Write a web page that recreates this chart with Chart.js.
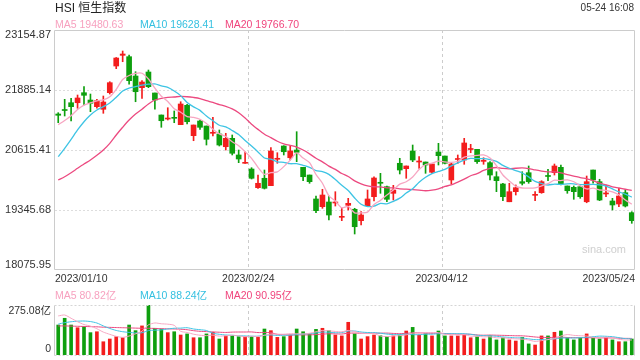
<!DOCTYPE html>
<html><head><meta charset="utf-8">
<script src="https://cdn.jsdelivr.net/npm/chart.js@4.4.1/dist/chart.umd.min.js"></script>
<style>
html,body{margin:0;padding:0;background:#fff;}
#wrap{position:relative;width:640px;height:360px;overflow:hidden;font-family:"Liberation Sans",Arial,"Noto Sans CJK SC",sans-serif;}
.t{position:absolute;white-space:nowrap;line-height:14px;font-size:10.5px;}
canvas{position:absolute;left:0;}
</style></head><body>
<div id="wrap">
<canvas id="k" width="640" height="290" style="top:0px"></canvas>
<canvas id="v" width="640" height="70" style="top:290px"></canvas>
<div class="t" style="left:55px;top:0px;font-size:12px;line-height:16px;color:#222">HSI 恒生指数</div>
<div class="t" style="right:6px;top:1px;font-size:10px;color:#333">05-24 16:08</div>
<div class="t" style="left:55px;top:17px;color:#f7a1bf">MA5 19480.63</div>
<div class="t" style="left:140px;top:17px;color:#35c0e0">MA10 19628.41</div>
<div class="t" style="left:225px;top:17px;color:#f0457d">MA20 19766.70</div>
<div class="t" style="left:55px;top:288px;color:#f7a1bf">MA5 80.82亿</div>
<div class="t" style="left:140px;top:288px;color:#35c0e0">MA10 88.24亿</div>
<div class="t" style="left:225px;top:288px;color:#f0457d">MA20 90.95亿</div>
<div class="t" style="left:582px;top:242px;font-size:11px;color:#cfcfcf">sina.com</div>
</div>
<script>
const dates = ["2023/01/10","2023/01/11","2023/01/12","2023/01/13","2023/01/16","2023/01/17","2023/01/18","2023/01/19","2023/01/20","2023/01/26",
"2023/01/27","2023/01/30","2023/01/31","2023/02/01","2023/02/02","2023/02/03","2023/02/06","2023/02/07","2023/02/08","2023/02/09",
"2023/02/10","2023/02/13","2023/02/14","2023/02/15","2023/02/16","2023/02/17","2023/02/20","2023/02/21","2023/02/22","2023/02/23",
"2023/02/24","2023/02/27","2023/02/28","2023/03/01","2023/03/02","2023/03/03","2023/03/06","2023/03/07","2023/03/08","2023/03/09",
"2023/03/10","2023/03/13","2023/03/14","2023/03/15","2023/03/16","2023/03/17","2023/03/20","2023/03/21","2023/03/22","2023/03/23",
"2023/03/24","2023/03/27","2023/03/28","2023/03/29","2023/03/30","2023/03/31","2023/04/03","2023/04/04","2023/04/06","2023/04/11",
"2023/04/12","2023/04/13","2023/04/14","2023/04/17","2023/04/18","2023/04/19","2023/04/20","2023/04/21","2023/04/24","2023/04/25",
"2023/04/26","2023/04/27","2023/04/28","2023/05/02","2023/05/03","2023/05/04","2023/05/05","2023/05/08","2023/05/09","2023/05/10",
"2023/05/11","2023/05/12","2023/05/15","2023/05/16","2023/05/17","2023/05/18","2023/05/19","2023/05/22","2023/05/23","2023/05/24"];

const opens = [21377,21462,21616,21616,21828,21673,21532,21477,21828,22393,
22619,22590,22181,21934,22266,21822,21356,21271,21292,21151,
21561,20918,21229,21123,20969,20954,20685,20863,20510,20334,
20213,19818,20017,19860,20419,20700,20452,20615,20249,20086,
19579,19416,19515,19494,19191,19445,19361,19120,19437,19627,
19923,19839,19699,20334,20220,20594,20361,20361,20144,20573,
20488,19981,20414,20404,20626,20630,20375,20347,20050,19896,
19520,19733,19945,20135,19656,19712,20065,20135,20249,19854,
19826,19839,19520,20192,19945,19685,19536,19473,19712,19289];

const highs = [21405,21688,21709,21779,21955,21800,21688,21758,22061,22573,
22710,22626,22272,22082,22308,21822,21356,21510,21441,21637,
21582,21144,21250,21123,21307,21039,20969,20933,20615,20579,
20241,20086,20192,20664,20558,20706,20706,21003,20249,20086,
19642,19784,19642,19733,19394,19593,19382,19310,19769,20050,
20122,19854,19868,20440,20277,20721,20474,20361,20319,20757,
20488,20334,20510,20863,20736,20630,20452,20368,20156,19911,
19911,19875,20156,20277,19733,19966,20207,20319,20298,19854,
19854,19854,20065,20192,19996,19875,19593,19805,19769,19310];

const lows = [21193,21335,21229,21498,21568,21426,21498,21392,21800,22336,
22484,22006,21637,21709,21934,21477,21096,21250,21193,21151,
21166,20812,21053,20721,20912,20700,20615,20510,20347,20334,
20002,19805,19790,19860,20334,20510,20404,20368,19966,19911,
19289,19381,19134,19430,19120,19346,18838,19028,19416,19536,
19699,19520,19557,20108,20017,20368,20228,20122,20122,20298,
20319,19896,20334,20313,20558,20334,20313,19981,19733,19543,
19520,19663,19875,19911,19543,19699,19966,20086,19875,19699,
19572,19593,19499,19911,19543,19627,19346,19416,19410,19064];

const closes = [21350,21451,21532,21716,21773,21604,21659,21631,22040,22562,
22647,22082,21849,22054,21955,21673,21235,21292,21286,21589,
21214,21144,21096,20842,20982,20721,20863,20546,20425,20347,
20017,19911,19805,20594,20431,20579,20594,20567,20050,19945,
19331,19663,19240,19508,19204,19487,18992,19240,19579,20023,
19911,19572,19769,20192,20277,20404,20375,20298,20319,20495,
20334,20319,20419,20764,20630,20368,20381,20086,19966,19627,
19733,19818,19911,19945,19663,19945,20055,20277,19896,19754,
19733,19627,19945,19981,19557,19699,19452,19642,19430,19120];

const ma5 = [21150,21240,21340,21470,21564,21615,21657,21677,21741,21899,
22108,22192,22236,22239,22117,21923,21753,21642,21488,21415,
21323,21305,21266,21177,21056,20957,20901,20791,20707,20580,
20440,20249,20101,20135,20152,20264,20401,20553,20444,20347,
20097,19911,19646,19537,19389,19420,19286,19286,19300,19464,
19549,19665,19771,19893,19944,20043,20203,20309,20335,20378,
20364,20353,20377,20466,20493,20500,20512,20446,20286,20086,
19959,19846,19811,19807,19814,19856,19904,19977,19967,19985,
19943,19857,19791,19808,19769,19762,19727,19666,19556,19469];

const ma10 = [20474,20651,20842,21039,21214,21356,21462,21532,21610,21732,
21862,21925,21956,21990,22008,22015,21973,21939,21864,21766,
21623,21529,21454,21333,21235,21140,21103,21028,20942,20818,
20698,20575,20446,20421,20366,20352,20325,20327,20290,20249,
20181,20156,20099,19991,19868,19759,19599,19466,19419,19427,
19485,19476,19529,19597,19704,19796,19934,20040,20114,20161,
20204,20278,20343,20400,20436,20432,20433,20412,20376,20289,
20229,20179,20128,20047,19950,19908,19875,19894,19887,19900,
19900,19881,19884,19888,19877,19852,19792,19729,19682,19619];

const ma20 = [19981,20050,20135,20228,20319,20404,20503,20615,20757,20933,
21096,21250,21377,21477,21589,21673,21709,21730,21737,21749,
21742,21727,21705,21661,21622,21578,21538,21484,21403,21292,
21161,21052,20950,20877,20801,20746,20714,20678,20616,20534,
20440,20365,20273,20206,20117,20055,19962,19897,19854,19838,
19833,19816,19814,19794,19786,19777,19766,19753,19766,19794,
19844,19877,19936,19999,20070,20114,20183,20226,20245,20225,
20216,20229,20236,20223,20193,20170,20154,20153,20132,20095,
20065,20030,20006,19967,19913,19880,19834,19811,19785,19759];

const volumes = [165,202,165,150,156,123,128,73,88,101,
95,165,134,160,275.08,147,143,123,128,110,
116,95,95,116,125,88,105,108,101,101,
101,97,143,134,97,101,110,143,128,116,
141,147,134,110,105,180,116,88,101,110,
106,101,105,110,132,152,110,116,105,132,
105,105,105,110,95,101,88,106,83,95,
83,77,97,61,55,105,105,125,132,95,
83,95,116,95,88,95,83,73,73,88];

const vma5 = [215,220,202,183,167.6,159.2,144.4,126,113.6,102.6,
97,104.4,116.6,131,165.8,176.2,171.8,169.6,163.2,130.2,
124,114.4,108.8,106.4,109.4,103.8,105.8,108.4,105.4,100.6,
103.2,101.6,108.6,115.2,114.4,114.4,117,117,115.8,119.6,
127.6,135,133.2,129.6,127.4,135.2,129,119.8,118,119,
104.2,101.2,104.6,106.4,110.8,120,121.8,124,123,123,
113.6,112.6,110.4,111.4,104,103.2,99.8,100,94.6,94.6,
91,88.8,87,82.6,74.6,79,84.6,90.2,104.4,112.4,
108,106,104.2,96.8,95.4,97.8,95.4,86.8,82.4,82.4];

const vma10 = [170,178,183,186,187,184,176,160,146,135.1,
128.1,124.4,121.3,122.3,134.2,136.6,138.1,143.1,147.1,148,
150.1,143.1,139.2,134.8,119.8,113.9,110.1,108.6,105.9,105,
103.5,103.7,108.5,110.3,107.5,108.8,109.3,112.8,115.5,117,
121,126,125.1,122.7,123.5,131.4,132,126.5,123.8,123.2,
119.7,115.1,112.2,112.2,114.9,112.1,111.5,114.3,114.7,116.9,
116.8,117.2,117.2,117.2,113.5,108.4,106.2,105.2,103,99.3,
97.1,94.3,93.5,88.6,84.6,85,86.7,88.6,93.5,93.5,
93.5,95.3,97.2,100.6,103.9,102.9,100.7,95.5,89.6,88.9];

const vma20 = [160,160,159,158,157,156,155,153,152,151,
150,149,148,147,147,146,145,144,143,141.6,
139.1,133.8,130.3,128.6,127,125.3,124.1,125.9,126.5,126.5,
126.8,123.4,123.9,122.6,113.7,111.4,109.7,110.7,110.7,111,
112.3,114.9,116.8,116.5,115.5,120.1,120.7,119.7,119.7,120.1,
120.4,120.6,118.7,117.5,119.2,121.8,121.8,120.4,119.3,120.1,
118.3,116.2,114.7,114.7,114.2,110.3,108.9,109.8,108.9,108.1,
107,105.8,105.4,102.9,99.1,96.7,96.5,96.9,98.3,96.4,
95.3,94.8,95.4,94.6,94.3,94,93.7,92.1,91.6,91.2];

const priceTicks = [18075.95, 19345.68, 20615.41, 21885.14, 23154.87];
const volumeTicks = [0, 275.08];

const FONT = '"Liberation Sans", Arial, "Noto Sans CJK SC", sans-serif';
Chart.defaults.font.family = FONT;
const RED = '#f31d1d', GREEN = '#0e9f0e';
const C5 = '#f7a6c2', C10 = '#3ec4e4', C20 = '#ec4a80';

const n = dates.length;
const idx = dates.map((d, i) => i);
const xTicks = [0, n / 3, 2 * n / 3, n].map(v => v - 0.5);
const isUp = i => closes[i] >= opens[i];
const colorFn = ctx => isUp(ctx.dataIndex) ? RED : GREEN;
const pts = arr => arr.map((v, i) => ({x: i, y: v}));
const lineDs = (arr, color, w) => ({type: 'line', data: pts(arr), borderColor: color, borderWidth: w,
  pointRadius: 0, tension: 0.25, fill: false, order: 0});

// frame + dotted grid, positions taken from the chart's own scales
const framePlugin = {
  id: 'frame',
  beforeDatasetsDraw(chart, args, opts) {
    const {ctx, chartArea: a, scales} = chart;
    ctx.save();
    ctx.lineWidth = 1;
    ctx.setLineDash([3, 3]);
    ctx.strokeStyle = '#cccccc';
    ctx.beginPath();
    xTicks.slice(1, -1).forEach(v => {
      const px = Math.round(scales.x.getPixelForValue(v)) + 0.5;
      ctx.moveTo(px, a.top); ctx.lineTo(px, a.bottom);
    });
    ctx.stroke();
    if (opts.hTicks) {
      ctx.setLineDash([2, 2]);
      ctx.strokeStyle = '#dddddd';
      ctx.beginPath();
      opts.hTicks.slice(1, -1).forEach(v => {
        const py = Math.round(scales.y.getPixelForValue(v)) + 0.5;
        ctx.moveTo(a.left, py); ctx.lineTo(a.right, py);
      });
      ctx.stroke();
    }
    ctx.restore();
  },
  afterDraw(chart, args, opts) {
    const {ctx, chartArea: a} = chart;
    const L = a.left - 0.5, R = a.right - 0.5, T = a.top + 0.5, B = a.bottom + (opts.bOff || -0.5);
    ctx.save();
    ctx.lineWidth = 1;
    ctx.strokeStyle = '#cccccc';
    ctx.beginPath(); ctx.moveTo(L, T); ctx.lineTo(L, B); ctx.moveTo(R, T); ctx.lineTo(R, B); ctx.stroke();
    if (opts.dotted) { ctx.setLineDash([2, 2]); ctx.strokeStyle = '#d5d5d5'; }
    ctx.beginPath(); ctx.moveTo(L, T); ctx.lineTo(R, T); ctx.moveTo(L, B); ctx.lineTo(R, B); ctx.stroke();
    ctx.restore();
  }
};

const xScale = (showLabels) => ({
  type: 'linear', min: -0.5, max: n - 0.5, offset: false,
  afterBuildTicks: s => { s.ticks = xTicks.map(v => ({value: v})); },
  afterFit: s => { s.height = showLabels ? 20 : 0; s.paddingLeft = 0; s.paddingRight = 0; },
  ticks: {display: showLabels, autoSkip: false, maxRotation: 0, minRotation: 0, align: 'inner', padding: 3,
    color: '#333', font: {size: 10.5},
    callback: v => dates[Math.max(0, Math.min(n - 1, Math.round(v)))]},
  grid: {display: false, drawTicks: false, offset: false},
  border: {display: false}
});

new Chart(document.getElementById('k'), {
  type: 'bar',
  data: {datasets: [
    lineDs(ma5, C5, 1.3),
    lineDs(ma10, C10, 1.3),
    lineDs(ma20, C20, 1.3),
    {data: idx.map(i => ({x: i, y: [opens[i], closes[i]]})), backgroundColor: colorFn,
      barThickness: 5, grouped: false, minBarLength: 1, order: 1},
    {data: idx.map(i => ({x: i, y: [lows[i], highs[i]]})), backgroundColor: colorFn,
      barThickness: 1, grouped: false, minBarLength: 1, order: 2}
  ]},
  options: {
    responsive: false, animation: false, devicePixelRatio: 1,
    layout: {padding: {top: 30, right: 5, left: 0, bottom: 0}},
    plugins: {legend: {display: false}, tooltip: {enabled: false}, frame: {dotted: false, hTicks: priceTicks}},
    scales: {
      x: xScale(true),
      y: {type: 'linear', min: priceTicks[0], max: priceTicks[priceTicks.length - 1],
        afterBuildTicks: s => { s.ticks = priceTicks.map(v => ({value: v})); },
        afterFit: s => { s.width = 55; s.paddingTop = 0; s.paddingBottom = 0; },
        ticks: {padding: 4, color: '#333', font: {size: 11, lineHeight: 0.95},
          callback: (v, i, t) => {
            const s = v.toFixed(2);
            if (i === 0) return [s, ''];
            if (i === t.length - 1) return ['', s];
            return s;
          }},
        grid: {display: false, drawTicks: false},
        border: {display: false}
      }
    }
  },
  plugins: [framePlugin]
});

new Chart(document.getElementById('v'), {
  type: 'bar',
  data: {datasets: [
    lineDs(vma5, C5, 1),
    lineDs(vma10, C10, 1),
    lineDs(vma20, C20, 1),
    {data: idx.map(i => ({x: i, y: volumes[i]})), backgroundColor: colorFn,
      barThickness: 3, grouped: false, order: 1}
  ]},
  options: {
    responsive: false, animation: false, devicePixelRatio: 1,
    layout: {padding: {top: 15, right: 5, left: 0, bottom: 5}},
    plugins: {legend: {display: false}, tooltip: {enabled: false}, frame: {dotted: true, bOff: 0.5}},
    scales: {
      x: xScale(false),
      y: {type: 'linear', min: volumeTicks[0], max: volumeTicks[1],
        afterBuildTicks: s => { s.ticks = volumeTicks.map(v => ({value: v})); },
        afterFit: s => { s.width = 55; s.paddingTop = 0; s.paddingBottom = 0; },
        ticks: {padding: 4, color: '#333', font: {size: 10.5, lineHeight: 1.2},
          callback: (v, i, t) => {
            if (i === 0) return [String(v), ''];
            return ['', v.toFixed(2) + '亿'];
          }},
        grid: {display: false, drawTicks: false},
        border: {display: false}
      }
    }
  },
  plugins: [framePlugin]
});
</script>
</body></html>
